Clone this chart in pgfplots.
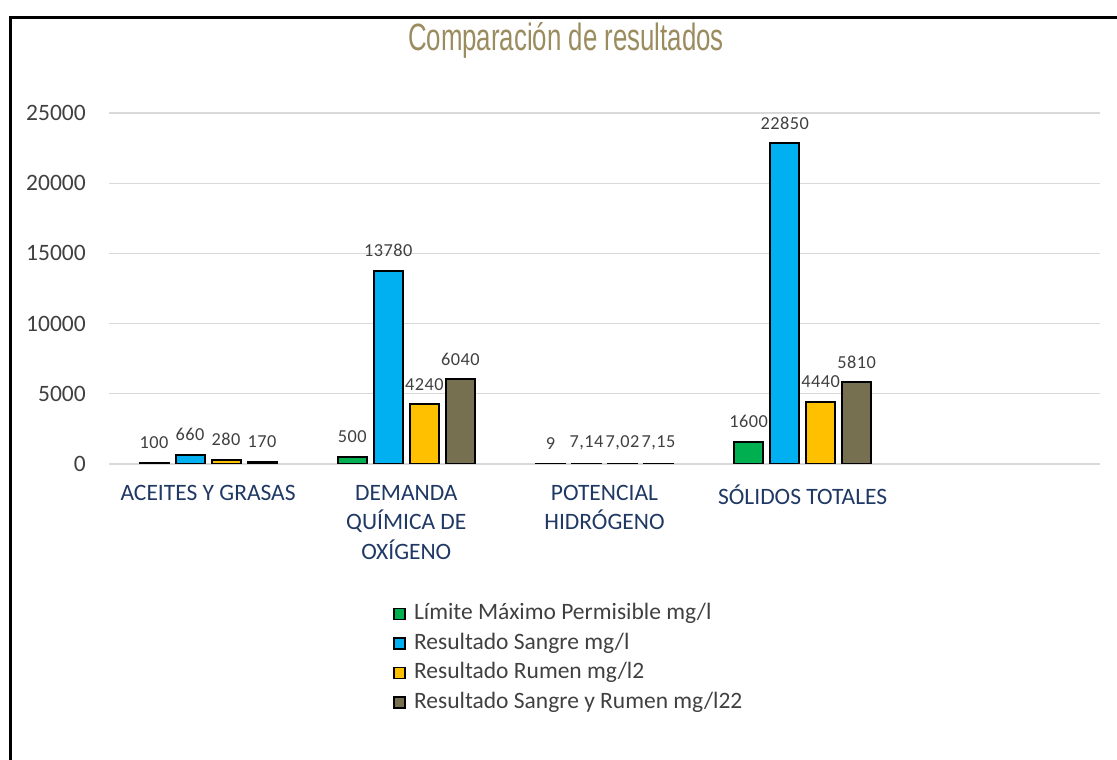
\documentclass[border=0pt]{standalone}
\usepackage{pgfplots}
\pgfplotsset{compat=1.18}
\usepackage{fontspec}
\setmainfont{Carlito}
\newfontfamily\titlefont[FakeStretch=0.68]{Liberation Sans}
\newfontfamily\labfont[LetterSpace=2.5]{Carlito}
\definecolor{cgreen}{HTML}{00B050}
\definecolor{cblue}{HTML}{00B0F0}
\definecolor{cyellow}{HTML}{FFC000}
\definecolor{colive}{HTML}{767050}
\definecolor{ctitle}{HTML}{9A8C5E}
\definecolor{gridgray}{HTML}{D9D9D9}
\definecolor{labgray}{HTML}{404040}
\definecolor{catblue}{HTML}{1F3864}
\pgfplotsset{sq/.style={legend image code/.code={\draw[##1, line width=1.6pt] (0pt,-5.5pt) rectangle (11pt,5.5pt);}}}
\begin{document}
\begin{tikzpicture}
\path[use as bounding box] (0pt,0pt) rectangle (1117pt,760pt);
\draw[line width=3pt] (10.5pt,0pt) -- (10.5pt,742.5pt) -- (1117pt,742.5pt);
\node[text=ctitle, font=\titlefont\fontsize{38}{38}\selectfont, anchor=base, inner sep=0pt] at (566pt,709pt) {Comparación de resultados};
\begin{axis}[
  at={(109pt,296pt)}, anchor=south west,
  scale only axis, width=991pt, height=351pt,
  ybar=7pt, bar width=29pt,
  xmin=-0.5, xmax=4.5, ymin=0, ymax=25000,
  xtick={0,1,2,3},
  xticklabels={ACEITES Y GRASAS, {DEMANDA\\QUÍMICA DE\\OXÍGENO}, {POTENCIAL\\HIDRÓGENO}, SÓLIDOS TOTALES},
  ytick={0,5000,10000,15000,20000,25000},
  axis line style={draw=none},
  major tick length=0pt,
  ymajorgrids, grid style={color=gridgray, line width=1.3pt},
  scaled y ticks=false,
  /pgf/number format/1000 sep={},
  /pgf/number format/assume math mode=true,
  y tick label style={font=\fontsize{23.5}{23.5}\selectfont, text=labgray, anchor=east, inner sep=0pt, xshift=-23pt},
  x tick label style={font=\fontsize{23.5}{29.5}\selectfont, text=catblue, align=center, anchor=north, inner sep=0pt, yshift=-21pt},
  nodes near coords,
  point meta=explicit symbolic,
  nodes near coords style={font=\labfont\fontsize{18.3}{18.3}\selectfont, text=labgray, anchor=south, inner sep=0pt, yshift=13pt},
  legend style={at={(0.2866,-0.385)}, anchor=north west, draw=none, fill=none, inner sep=0pt,
    font=\fontsize{23.5}{23.5}\selectfont, text=labgray, row sep=0pt, column sep=5pt,
    nodes={text height=17pt, text depth=6pt, inner sep=3.25pt}},
  legend cell align=left,
]
\addplot[fill=cgreen, draw=black, line width=2pt, sq] coordinates {(0,100) [100] (1,500) [500] (2,9) [9] (3,1600) [1600]};
\addplot[fill=cblue, draw=black, line width=2pt, sq] coordinates {(0,660) [660] (1,13780) [13780] (2,7.14) [{7,14}] (3,22850) [22850]};
\addplot[fill=cyellow, draw=black, line width=2pt, sq] coordinates {(0,280) [280] (1,4240) [4240] (2,7.02) [{7,02}] (3,4440) [4440]};
\addplot[fill=colive, draw=black, line width=2pt, sq] coordinates {(0,170) [170] (1,6040) [6040] (2,7.15) [{7,15}] (3,5810) [5810]};
\legend{Límite Máximo Permisible mg/l, Resultado Sangre mg/l, Resultado Rumen mg/l2, Resultado Sangre y Rumen mg/l22}
\end{axis}
\end{tikzpicture}
\end{document}
